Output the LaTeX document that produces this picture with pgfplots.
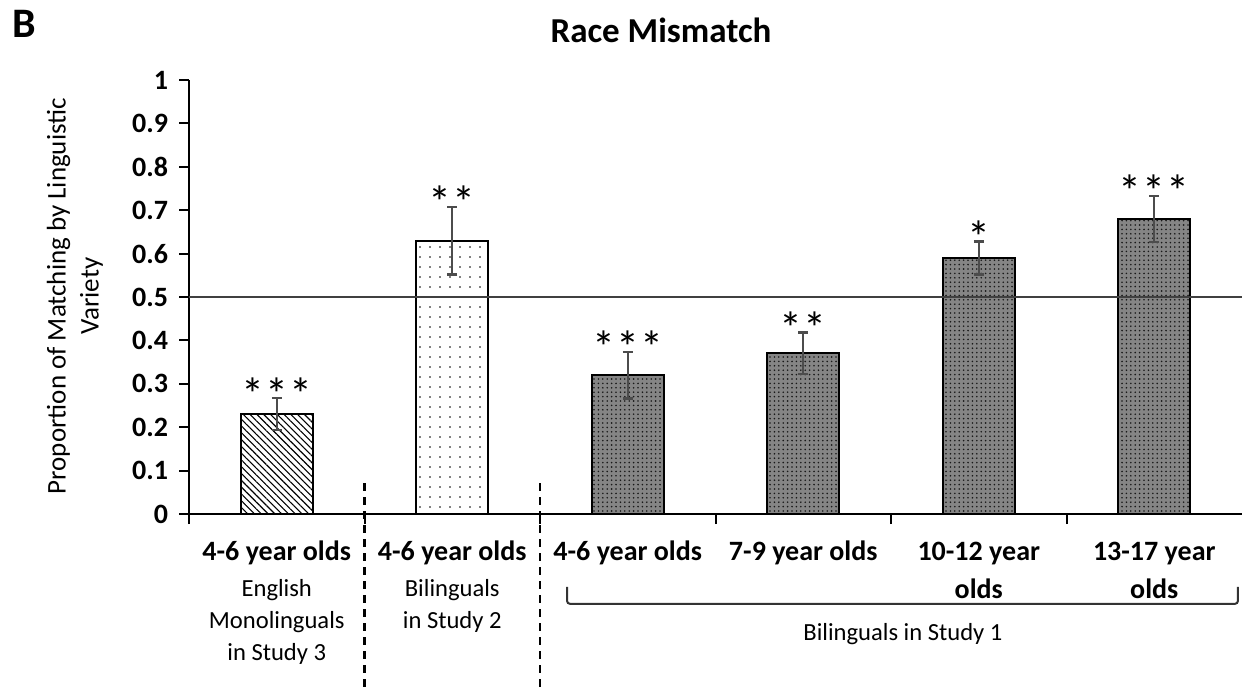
\documentclass[border=0pt]{standalone}
\usepackage{fontspec}
\setmainfont{Carlito}
\usepackage{pgfplots}
\pgfplotsset{compat=1.18}
\usetikzlibrary{patterns.meta}
\newcommand{\bl}[1]{{\fontsize{14bp}{16bp}\selectfont\bfseries #1}}
\newcommand{\rg}[1]{{\fontsize{12.3bp}{14bp}\selectfont #1}}
\newcommand{\st}[1]{{\fontsize{23bp}{24bp}\selectfont #1}}
\begin{document}
\begin{tikzpicture}[x=1bp,y=1bp]
\useasboundingbox (0,0) rectangle (621,343.5);
\begin{axis}[
  at={(94.5bp,86.5bp)}, anchor=south west,
  scale only axis, width=526.5bp, height=217bp,
  xmin=-0.5, xmax=5.5, ymin=0, ymax=1,
  axis x line=bottom, axis y line=left,
  axis line style={line width=1.1bp, -},
  ytick={0,0.1,0.2,0.3,0.4,0.5,0.6,0.7,0.8,0.9,1},
  xtick={-0.5,0.5,1.5,2.5,3.5,4.5}, xticklabels={},
  /pgf/number format/assume math mode=true,
  yticklabel style={font=\fontsize{14bp}{16bp}\selectfont\bfseries, xshift=-2bp},
  tick align=outside, major tick length=5bp,
  tick style={line width=1bp, black},
  clip=false,
  ybar, bar width=36bp, bar shift=0pt,
  error bars/error bar style={line width=1.1bp, black!70},
  error bars/error mark options={rotate=90, mark size=2.5bp, line width=1.1bp, black!70},
]
% Bar 1: English monolinguals, Study 3
\addplot[draw=black, line width=1bp, pattern={Lines[angle=-45,distance=2.4bp,line width=0.55bp]}, pattern color=black,
  error bars/.cd, y dir=both, y explicit]
  coordinates {(0,0.23) +- (0,0.037)};
% Bar 2: Bilinguals, Study 2
\addplot[draw=black, line width=1bp, pattern={Dots[distance=5bp,radius=0.45bp]}, pattern color=black,
  error bars/.cd, y dir=both, y explicit]
  coordinates {(1,0.63) +- (0,0.078)};
% Bars 3-6: Bilinguals, Study 1
\addplot[draw=black, line width=1bp, fill=black!48, postaction={pattern={Dots[distance=2.2bp,radius=0.45bp]}, pattern color=black!90},
  error bars/.cd, y dir=both, y explicit]
  coordinates {(2,0.32) +- (0,0.054) (3,0.37) +- (0,0.048) (4,0.59) +- (0,0.038) (5,0.68) +- (0,0.053)};
% chance line
\draw[black!75, line width=1.3bp] (axis cs:-0.5,0.5) -- (axis cs:5.5,0.5);
% significance stars
\node[anchor=base, inner sep=0pt, yshift=-6bp] at (axis cs:0,0.267) {\st{*\kern0.5bp*\kern0.5bp*}};
\node[anchor=base, inner sep=0pt, yshift=-6bp] at (axis cs:1,0.708) {\st{*\kern0.5bp*}};
\node[anchor=base, inner sep=0pt, yshift=-6bp] at (axis cs:2,0.374) {\st{*\kern0.5bp*\kern0.5bp*}};
\node[anchor=base, inner sep=0pt, yshift=-6bp] at (axis cs:3,0.418) {\st{*\kern0.5bp*}};
\node[anchor=base, inner sep=0pt, yshift=-6bp] at (axis cs:4,0.628) {\st{*}};
\node[anchor=base, inner sep=0pt, yshift=-6bp] at (axis cs:5,0.733) {\st{*\kern0.5bp*\kern0.5bp*}};
% dashed separators
\draw[line width=1.2bp, dash pattern=on 4bp off 3bp] (axis cs:0.5,0.071) -- (axis cs:0.5,-0.4);
\draw[line width=1.2bp, dash pattern=on 4bp off 3bp] (axis cs:1.5,0.071) -- (axis cs:1.5,-0.4);
% bracket
\draw[line width=1bp, black!80, rounded corners=1.5bp] (axis cs:1.654,-0.168) -- (axis cs:1.654,-0.207) -- (axis cs:5.477,-0.207) -- (axis cs:5.477,-0.168);
% category labels
\node[anchor=base] at ([yshift=-23bp]axis cs:0,0) {\bl{4-6 year olds}};
\node[anchor=base] at ([yshift=-23bp]axis cs:1,0) {\bl{4-6 year olds}};
\node[anchor=base] at ([yshift=-23bp]axis cs:2,0) {\bl{4-6 year olds}};
\node[anchor=base] at ([yshift=-23bp]axis cs:3,0) {\bl{7-9 year olds}};
\node[anchor=base] at ([yshift=-23bp]axis cs:4,0) {\bl{10-12 year}};
\node[anchor=base] at ([yshift=-42bp]axis cs:4,0) {\bl{olds}};
\node[anchor=base] at ([yshift=-23bp]axis cs:5,0) {\bl{13-17 year}};
\node[anchor=base] at ([yshift=-42bp]axis cs:5,0) {\bl{olds}};
\node[anchor=base] at ([yshift=-41bp]axis cs:0,0) {\rg{English}};
\node[anchor=base] at ([yshift=-57bp]axis cs:0,0) {\rg{Monolinguals}};
\node[anchor=base] at ([yshift=-73bp]axis cs:0,0) {\rg{in Study 3}};
\node[anchor=base] at ([yshift=-41bp]axis cs:1,0) {\rg{Bilinguals}};
\node[anchor=base] at ([yshift=-57bp]axis cs:1,0) {\rg{in Study 2}};
\node[anchor=base] at ([yshift=-63bp]axis cs:3.568,0) {\rg{Bilinguals in Study 1}};
\end{axis}
\node[rotate=90, align=center, font=\fontsize{13.5bp}{16.5bp}\selectfont] at (37.5,195.5) {Proportion of Matching by Linguistic\\Variety};
\node[font=\fontsize{17.5bp}{20bp}\selectfont\bfseries] at (330.5,328.5) {Race Mismatch};
\node[font=\fontsize{21bp}{22bp}\selectfont\bfseries] at (12,331.5) {B};
\end{tikzpicture}
\end{document}
